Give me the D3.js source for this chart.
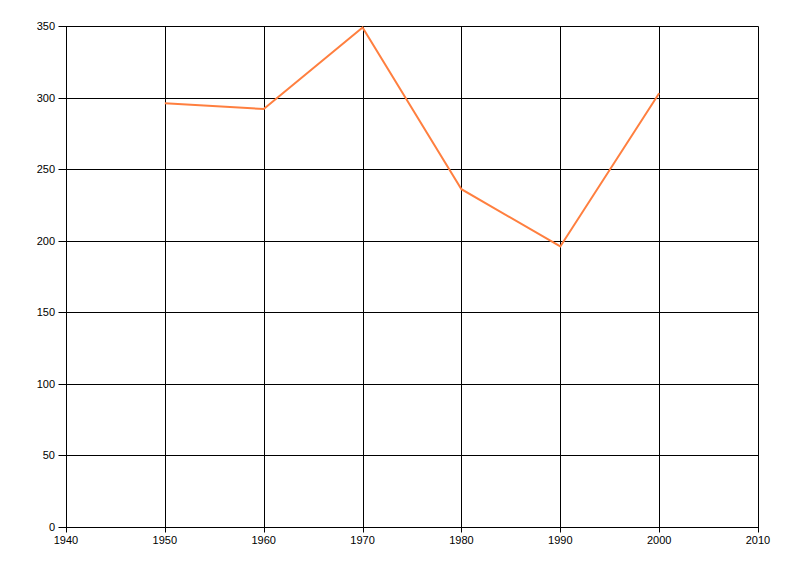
<!DOCTYPE html>
<html>
<head>
<meta charset="utf-8">
<script src="https://cdn.jsdelivr.net/npm/d3@7"></script>
<style>
  body { margin: 0; background: #fff; }
  svg text { font-family: "Liberation Sans", Arial, sans-serif; font-size: 11px; fill: #000; }
</style>
</head>
<body>
<div id="chart"></div>
<script>
// data
const years = [1950, 1960, 1970, 1980, 1990, 2000]
const values = [296, 292, 349, 236, 196, 303]
const xTicks = [1940, 1950, 1960, 1970, 1980, 1990, 2000, 2010]
const yTicks = [0, 50, 100, 150, 200, 250, 300, 350]

const width = 800
const height = 576
const margin = { top: 26, right: 42, bottom: 49, left: 66 }

const svg = d3.select('#chart').append('svg')
  .attr('width', width)
  .attr('height', height)

const x = d3.scaleLinear().domain([1940, 2010]).range([margin.left, width - margin.right])
const y = d3.scaleLinear().domain([0, 350]).range([height - margin.bottom, margin.top])

const crisp = v => Math.round(v) + 0.5

// grid
const grid = svg.append('g').attr('stroke', '#000').attr('stroke-width', 1)
grid.selectAll('line.v')
  .data(xTicks)
  .enter().append('line')
  .attr('class', 'v')
  .attr('x1', d => crisp(x(d))).attr('x2', d => crisp(x(d)))
  .attr('y1', crisp(y(350))).attr('y2', crisp(y(0)) + 5)
grid.selectAll('line.h')
  .data(yTicks)
  .enter().append('line')
  .attr('class', 'h')
  .attr('y1', d => crisp(y(d))).attr('y2', d => crisp(y(d)))
  .attr('x1', crisp(x(1940)) - 8).attr('x2', crisp(x(2010)))

// tick labels
svg.append('g').selectAll('text')
  .data(yTicks)
  .enter().append('text')
  .attr('x', x(1940) - 11)
  .attr('y', d => y(d) + 4)
  .attr('text-anchor', 'end')
  .text(d => d)

svg.append('g').selectAll('text')
  .data(xTicks)
  .enter().append('text')
  .attr('x', d => x(d))
  .attr('y', y(0) + 17)
  .attr('text-anchor', 'middle')
  .text(d => d)

// series line
const line = d3.line()
  .x((d, i) => x(years[i]))
  .y(d => y(d))

svg.append('path')
  .datum(values)
  .attr('d', line)
  .attr('fill', 'none')
  .attr('stroke', '#ff7f3f')
  .attr('stroke-width', 2)
</script>
</body>
</html>
